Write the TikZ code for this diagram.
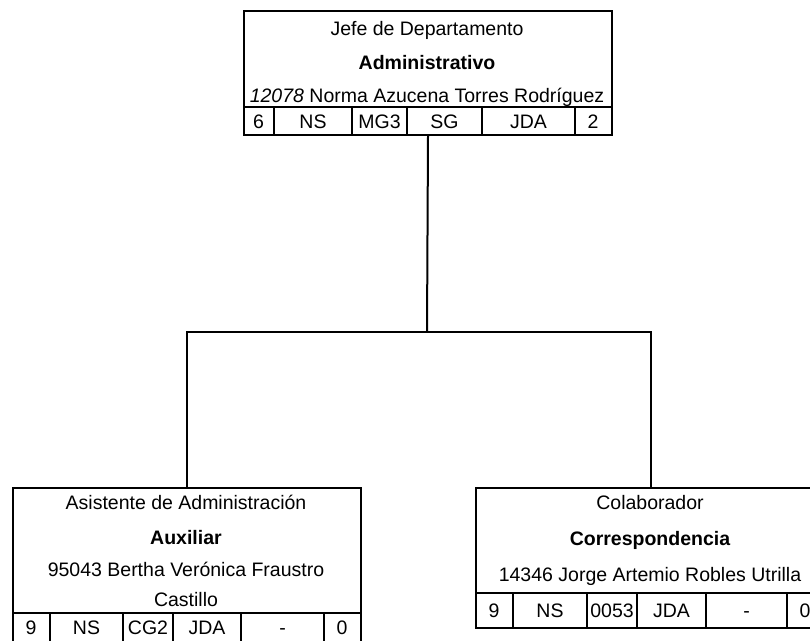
\documentclass[tikz,border=0pt]{standalone}
\usepackage{fontspec}
\setmainfont{Liberation Sans}
\begin{document}
\begin{tikzpicture}[x=1pt,y=-1pt,
  box/.style={draw,line width=2pt,rectangle,inner sep=0pt,anchor=north west},
  conn/.style={line width=2pt},
  cell/.style={line width=2pt},
  txt/.style={anchor=base,inner sep=0pt,font=\fontsize{19.5}{23}\selectfont}]
\useasboundingbox (0,0) rectangle (810,640);
\clip (0,0) rectangle (810,640);
\fill[white] (0,0) rectangle (810,640);
% top box
\node[box,minimum width=368pt,minimum height=124pt] (top) at (243,10) {};
\draw[cell] (243,107) -- (611,107);
\foreach \x in {274,352,407,482,575} \draw[cell] (\x,107) -- (\x,134);
\node[txt] (t1) at (427,35) {Jefe de Departamento};
\node[txt] (t2) at (427,69) {\textbf{Administrativo}};
\node[txt] (t3) at (427,102) {\textit{12078} Norma Azucena Torres Rodríguez};
\node[txt] (tc1) at (258.5,128) {6};
\node[txt] (tc2) at (313,128) {NS};
\node[txt] (tc3) at (379.5,128) {MG3};
\node[txt] (tc4) at (444.5,128) {SG};
\node[txt] (tc5) at (528.5,128) {JDA};
\node[txt] (tc6) at (593,128) {2};
% left box
\node[box,minimum width=348pt,minimum height=160pt] (left) at (12,487) {};
\draw[cell] (12,613) -- (360,613);
\foreach \x in {50,123,173,241,324} \draw[cell] (\x,613) -- (\x,647);
\node[txt] (l1) at (186,509) {Asistente de Administración};
\node[txt] (l2) at (186,544) {\textbf{Auxiliar}};
\node[txt] (l3) at (186,576) {95043 Bertha Verónica Fraustro};
\node[txt] (l4) at (186,606) {Castillo};
\node[txt] (lc1) at (31,634) {9};
\node[txt] (lc2) at (86.5,634) {NS};
\node[txt] (lc3) at (148,634) {CG2};
\node[txt] (lc4) at (207,634) {JDA};
\node[txt] (lc5) at (282.5,634) {-};
\node[txt] (lc6) at (342,634) {0};
% right box
\node[box,minimum width=350pt,minimum height=140pt] (right) at (475,487) {};
\draw[cell] (475,593) -- (825,593);
\foreach \x in {513,587,637,706,787} \draw[cell] (\x,593) -- (\x,627);
\node[txt] (r1) at (650,509) {Colaborador};
\node[txt] (r2) at (650,545) {\textbf{Correspondencia}};
\node[txt] (r3) at (650,581) {14346 Jorge Artemio Robles Utrilla};
\node[txt] (rc1) at (494,617) {9};
\node[txt] (rc2) at (550,617) {NS};
\node[txt] (rc3) at (612,617) {0053};
\node[txt] (rc4) at (671.5,617) {JDA};
\node[txt] (rc5) at (746.5,617) {-};
\node[txt] (rc6) at (805,617) {0};
% connectors
\coordinate (bus) at (427,332);
\draw[conn] (top.south) -- (bus);
\draw[conn] (left.north) |- (bus) -| (right.north);
\end{tikzpicture}
\end{document}
